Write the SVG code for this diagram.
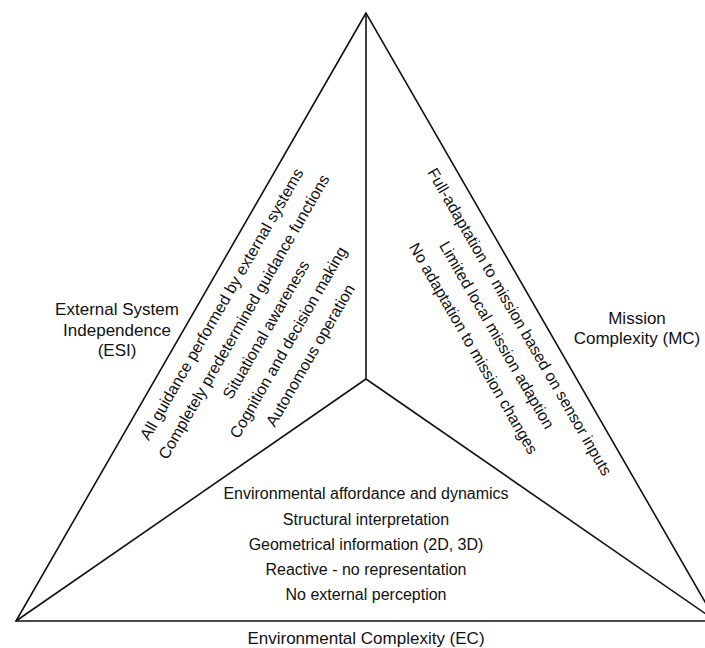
<svg xmlns="http://www.w3.org/2000/svg" width="705" height="648" viewBox="0 0 705 648">
<style>
.t{font-family:"Liberation Sans",Arial,sans-serif;font-size:16px;fill:#111;text-anchor:middle}
.lbl{font-size:17px}
.ln{stroke:#111;stroke-width:1.6;fill:none;stroke-linejoin:miter}
</style>
<rect width="705" height="648" fill="#fff"/>
<g id="triangle">
<polygon class="ln" points="366,13 16,621 716,621"/>
</g>
<g id="connectors">
<line class="ln" x1="366" y1="379" x2="366" y2="13"/>
<line class="ln" x1="366" y1="379" x2="16" y2="621"/>
<line class="ln" x1="366" y1="379" x2="716" y2="621"/>
</g>
<g id="esi-label">
<text class="t lbl" x="117" y="315">External System</text>
<text class="t lbl" x="117" y="335.5">Independence</text>
<text class="t lbl" x="117" y="356">(ESI)</text>
</g>
<g id="mc-label">
<text class="t lbl" x="637" y="323.5">Mission</text>
<text class="t lbl" x="637" y="344">Complexity (MC)</text>
</g>
<g id="ec-label">
<text class="t lbl" x="366" y="643.5">Environmental Complexity (EC)</text>
</g>
<g id="esi-levels" transform="rotate(-60)">
<text class="t" x="-152.5" y="349.5">All guidance performed by external systems</text>
<text class="t" x="-152.5" y="375.1">Completely predetermined guidance functions</text>
<text class="t" x="-152.5" y="400.7">Situational awareness</text>
<text class="t" x="-152.5" y="426.3">Cognition and decision making</text>
<text class="t" x="-152.5" y="451.9">Autonomous operation</text>
</g>
<g id="mc-levels" transform="rotate(60)">
<text class="t" x="538.5" y="-283.7">Full-adaptation to mission based on sensor inputs</text>
<text class="t" x="538.5" y="-257.3">Limited local mission adaption</text>
<text class="t" x="538.5" y="-230.5">No adaptation to mission changes</text>
</g>
<g id="ec-levels">
<text class="t" x="366" y="499">Environmental affordance and dynamics</text>
<text class="t" x="366" y="524.5">Structural interpretation</text>
<text class="t" x="366" y="550">Geometrical information (2D, 3D)</text>
<text class="t" x="366" y="575">Reactive - no representation</text>
<text class="t" x="366" y="600">No external perception</text>
</g>
</svg>
